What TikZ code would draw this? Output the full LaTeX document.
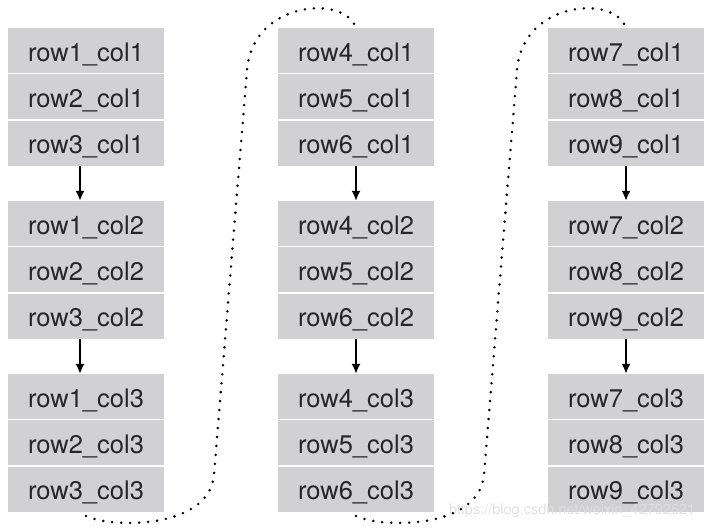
\documentclass[tikz,border=0pt]{standalone}
\usepackage{fontspec}
\newfontfamily\cellfont{TeX Gyre Heros}
\usetikzlibrary{positioning,arrows.meta}
\definecolor{cellgray}{RGB}{209,209,211}
\definecolor{markgray}{RGB}{222,222,224}
\tikzset{
	cell/.style={fill=cellgray, minimum width=156pt, minimum height=45pt, inner sep=0pt,
		text height=21pt, text depth=0pt,
		font=\cellfont\fontsize{25.5}{28}\selectfont, text=black!85},
	flow/.style={-{Latex[length=10pt,width=9pt]}, line width=1.8pt},
	linkdots/.style={line width=2.8pt, line cap=round, dash pattern=on 0pt off 9pt},
}
\begin{document}
\begin{tikzpicture}[x=1pt, y=-1pt]
		\useasboundingbox ( 0, 0 ) rectangle ( 714, 530 );

		% столбец 1
		\node [cell] (r1c1) at ( 86, 50.5 ) {row1\_col1};
		\node [cell, below=1pt of r1c1] (r2c1) {row2\_col1};
		\node [cell, below=1pt of r2c1] (r3c1) {row3\_col1};
		\node [cell] (r1c2) at ( 86, 223.5 ) {row1\_col2};
		\node [cell, below=1pt of r1c2] (r2c2) {row2\_col2};
		\node [cell, below=1pt of r2c2] (r3c2) {row3\_col2};
		\node [cell] (r1c3) at ( 86, 396.5 ) {row1\_col3};
		\node [cell, below=1pt of r1c3] (r2c3) {row2\_col3};
		\node [cell, below=1pt of r2c3] (r3c3) {row3\_col3};
		\draw [flow] ([xshift=-6pt]r3c1.south) -- ([xshift=-6pt]r1c2.north);
		\draw [flow] ([xshift=-6pt]r3c2.south) -- ([xshift=-6pt]r1c3.north);

		% столбец 2
		\node [cell] (r4c1) at ( 356, 50.5 ) {row4\_col1};
		\node [cell, below=1pt of r4c1] (r5c1) {row5\_col1};
		\node [cell, below=1pt of r5c1] (r6c1) {row6\_col1};
		\node [cell] (r4c2) at ( 356, 223.5 ) {row4\_col2};
		\node [cell, below=1pt of r4c2] (r5c2) {row5\_col2};
		\node [cell, below=1pt of r5c2] (r6c2) {row6\_col2};
		\node [cell] (r4c3) at ( 356, 396.5 ) {row4\_col3};
		\node [cell, below=1pt of r4c3] (r5c3) {row5\_col3};
		\node [cell, below=1pt of r5c3] (r6c3) {row6\_col3};
		\draw [flow] (r6c1) -- (r4c2);
		\draw [flow] (r6c2) -- (r4c3);

		% столбец 3
		\node [cell] (r7c1) at ( 626, 50.5 ) {row7\_col1};
		\node [cell, below=1pt of r7c1] (r8c1) {row8\_col1};
		\node [cell, below=1pt of r8c1] (r9c1) {row9\_col1};
		\node [cell] (r7c2) at ( 626, 223.5 ) {row7\_col2};
		\node [cell, below=1pt of r7c2] (r8c2) {row8\_col2};
		\node [cell, below=1pt of r8c2] (r9c2) {row9\_col2};
		\node [cell] (r7c3) at ( 626, 396.5 ) {row7\_col3};
		\node [cell, below=1pt of r7c3] (r8c3) {row8\_col3};
		\node [cell, below=1pt of r8c3] (r9c3) {row9\_col3};
		\draw [flow] (r9c1) -- (r7c2);
		\draw [flow] (r9c2) -- (r7c3);

		% переходы между столбцами
		\draw [linkdots] ([yshift=-4pt]r3c3.south) .. controls ( 110, 528 ) and ( 209, 530 ) .. ( 214, 475 )
			-- ( 247, 70 ) .. controls ( 253, 0 ) and ( 345, -5 ) .. (r4c1.north);
		\draw [linkdots] ([yshift=-4pt]r6c3.south) .. controls ( 380, 528 ) and ( 479, 530 ) .. ( 484, 475 )
			-- ( 517, 70 ) .. controls ( 523, 0 ) and ( 615, -5 ) .. (r7c1.north);

		% подпись
		\node [font=\cellfont\fontsize{14.5}{16}\selectfont, text=markgray, opacity=0.9] (mark) at ( 572, 511 ) {https://blog.csdn.net/weixin\_42792621};
	\end{tikzpicture}
\end{document}
